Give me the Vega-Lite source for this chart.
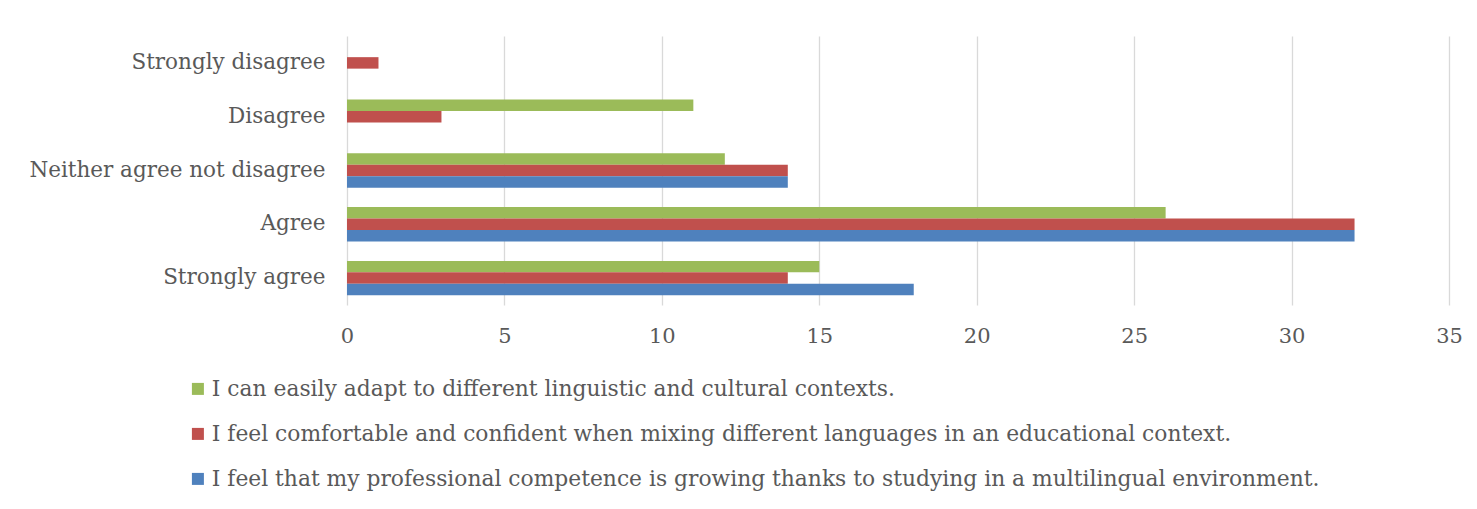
{
  "$schema": "https://vega.github.io/schema/vega-lite/v6.json",
  "autosize": "none",
  "width": 1102,
  "height": 269,
  "padding": {"left": 347, "top": 36, "right": 28, "bottom": 204},
  "background": "white",
  "data": {
    "values": [
      {"response": "Strongly disagree", "series": "I can easily adapt to different linguistic and cultural contexts.", "count": 0},
      {"response": "Strongly disagree", "series": "I feel comfortable and confident when mixing different languages in an educational context.", "count": 1},
      {"response": "Strongly disagree", "series": "I feel that my professional competence is growing thanks to studying in a multilingual environment.", "count": 0},
      {"response": "Disagree", "series": "I can easily adapt to different linguistic and cultural contexts.", "count": 11},
      {"response": "Disagree", "series": "I feel comfortable and confident when mixing different languages in an educational context.", "count": 3},
      {"response": "Disagree", "series": "I feel that my professional competence is growing thanks to studying in a multilingual environment.", "count": 0},
      {"response": "Neither agree not disagree", "series": "I can easily adapt to different linguistic and cultural contexts.", "count": 12},
      {"response": "Neither agree not disagree", "series": "I feel comfortable and confident when mixing different languages in an educational context.", "count": 14},
      {"response": "Neither agree not disagree", "series": "I feel that my professional competence is growing thanks to studying in a multilingual environment.", "count": 14},
      {"response": "Agree", "series": "I can easily adapt to different linguistic and cultural contexts.", "count": 26},
      {"response": "Agree", "series": "I feel comfortable and confident when mixing different languages in an educational context.", "count": 32},
      {"response": "Agree", "series": "I feel that my professional competence is growing thanks to studying in a multilingual environment.", "count": 32},
      {"response": "Strongly agree", "series": "I can easily adapt to different linguistic and cultural contexts.", "count": 15},
      {"response": "Strongly agree", "series": "I feel comfortable and confident when mixing different languages in an educational context.", "count": 14},
      {"response": "Strongly agree", "series": "I feel that my professional competence is growing thanks to studying in a multilingual environment.", "count": 18}
    ]
  },
  "mark": {"type": "bar"},
  "encoding": {
    "y": {
      "field": "response",
      "type": "nominal",
      "sort": ["Strongly disagree", "Disagree", "Neither agree not disagree", "Agree", "Strongly agree"],
      "scale": {"paddingInner": 0.36, "paddingOuter": 0.18},
      "axis": {
        "title": null,
        "domain": false,
        "ticks": false,
        "grid": false,
        "labelPadding": 22,
        "labelFont": "DejaVu Serif",
        "labelFontSize": 21.5,
        "labelColor": "#595959",
        "labelLimit": 400
      }
    },
    "yOffset": {
      "field": "series",
      "type": "nominal",
      "sort": [
        "I can easily adapt to different linguistic and cultural contexts.",
        "I feel comfortable and confident when mixing different languages in an educational context.",
        "I feel that my professional competence is growing thanks to studying in a multilingual environment."
      ],
      "scale": {"paddingInner": 0, "paddingOuter": 0}
    },
    "x": {
      "field": "count",
      "type": "quantitative",
      "scale": {"domain": [0, 35], "nice": false},
      "axis": {
        "title": null,
        "values": [0, 5, 10, 15, 20, 25, 30, 35],
        "domain": false,
        "ticks": false,
        "grid": true,
        "gridColor": "#d9d9d9",
        "gridWidth": 1.3,
        "labelPadding": 20,
        "labelFlush": false,
        "labelBound": false,
        "labelFont": "DejaVu Serif",
        "labelFontSize": 21,
        "labelColor": "#595959"
      }
    },
    "color": {
      "field": "series",
      "type": "nominal",
      "scale": {
        "domain": [
          "I can easily adapt to different linguistic and cultural contexts.",
          "I feel comfortable and confident when mixing different languages in an educational context.",
          "I feel that my professional competence is growing thanks to studying in a multilingual environment."
        ],
        "range": ["#9BBB59", "#C0504D", "#4F81BD"]
      },
      "legend": {
        "title": null,
        "orient": "none",
        "legendX": -160,
        "legendY": 342,
        "direction": "vertical",
        "symbolType": "square",
        "symbolSize": 144,
        "symbolStrokeWidth": 0,
        "labelFont": "DejaVu Serif",
        "labelFontSize": 21.8,
        "labelColor": "#595959",
        "labelLimit": 1300,
        "labelOffset": 3,
        "rowPadding": 22
      }
    }
  },
  "config": {"view": {"stroke": null}}
}
